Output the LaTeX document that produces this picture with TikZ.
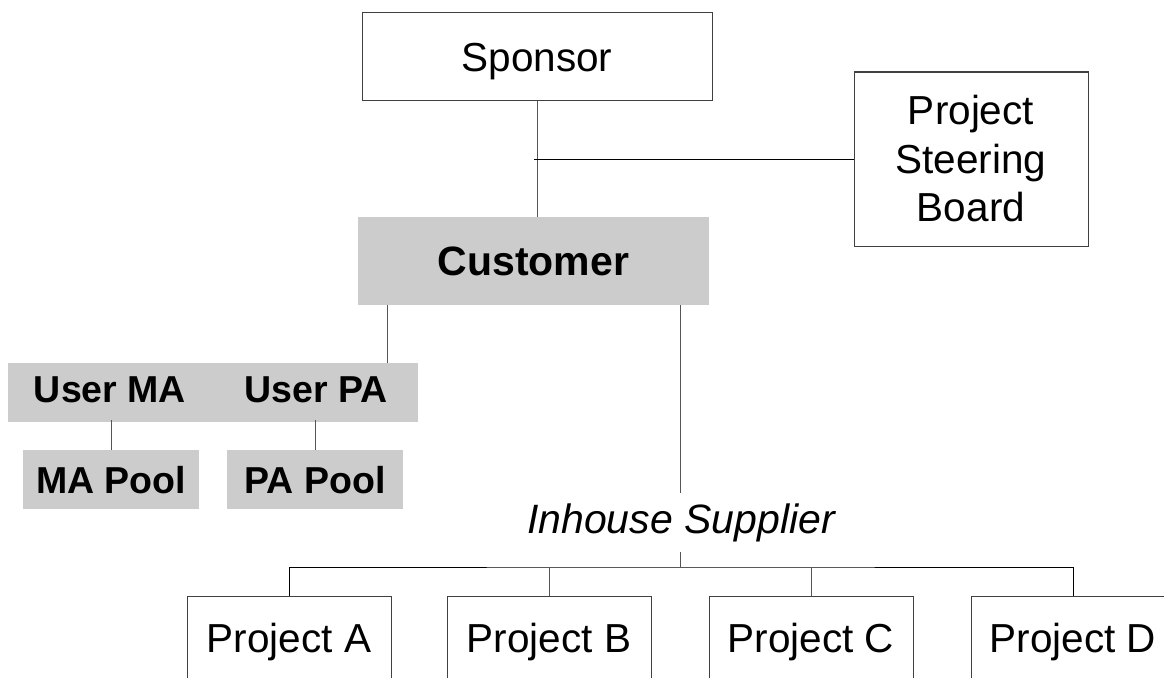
\documentclass[tikz,border=0pt]{standalone}
\usepackage{fontspec}
\setmainfont{Liberation Sans}
\definecolor{boxgray}{HTML}{CCCCCC}
\definecolor{border}{HTML}{404040}
\definecolor{linecol}{HTML}{555555}
\begin{document}
\begin{tikzpicture}[x=1pt,y=-1pt,
  lbl/.style={font=\fontsize{40.5}{48.5}\selectfont, text height=29pt, text depth=0pt},
  wbox/.style={draw=border, line width=1pt, fill=white, inner sep=0pt},
  gbox/.style={fill=boxgray, draw=none, inner sep=0pt},
  bold/.style={font=\fontsize{41}{48}\selectfont\bfseries, text height=29pt, text depth=0pt},
  ubold/.style={font=\fontsize{37.5}{44}\selectfont\bfseries, text height=27pt, text depth=0pt},
  conn/.style={draw=linecol, line width=1pt},
  hconn/.style={draw=black, line width=1pt}]
\useasboundingbox (0,0) rectangle (1164,677);
\clip (0,0) rectangle (1164,677);
\fill[white] (0,0) rectangle (1164,677);

% nodes
\node[wbox, lbl, minimum width=350pt, minimum height=87pt] (sponsor) at (537,56.5) {Sponsor};
\node[wbox, font=\fontsize{40.5}{48.5}\selectfont, align=center, minimum width=234pt, minimum height=174pt] (psb) at (971,159) {Project\\Steering\\Board};
\node[gbox, bold, minimum width=351pt, minimum height=88pt] (cust) at (533.5,261) {Customer};
\node[gbox, minimum width=410pt, minimum height=59pt] (ubar) at (213,392.5) {};
\node[ubold, inner sep=0pt] (uma) at (110,389) {User MA};
\node[ubold, inner sep=0pt] (upa) at (316,389) {User PA};
\node[gbox, ubold, minimum width=176pt, minimum height=59pt] (mapool) at (111,479.5) {MA Pool};
\node[gbox, ubold, minimum width=176pt, minimum height=59pt] (papool) at (315,479.5) {PA Pool};
\node[font=\fontsize{41}{48}\selectfont\itshape, text height=29pt, text depth=8pt, inner xsep=0pt, inner ysep=11pt, anchor=base] (sup) at (681,533) {Inhouse Supplier};
\coordinate (hub) at (680,567);
\node[wbox, lbl, minimum width=204pt, minimum height=84pt] (pA) at (289,638) {Project A};
\node[wbox, lbl, minimum width=204pt, minimum height=84pt] (pB) at (549,638) {Project B};
\node[wbox, lbl, minimum width=204pt, minimum height=84pt] (pC) at (811,638) {Project C};
\node[wbox, lbl, minimum width=204pt, minimum height=84pt] (pD) at (1073,638) {Project D};

% connectors
\draw[conn] (sponsor.south) -- (sponsor.south |- cust.north);
\draw[hconn] ([xshift=-3pt]sponsor.south |- psb.west) -- (psb.west);
\draw[conn] ([xshift=30pt]cust.south west) -- ([xshift=30pt]cust.south west |- ubar.north);
\draw[conn] (uma.south |- ubar.south) ++(1pt,2pt) coordinate (umab) -- (umab |- mapool.north);
\draw[conn] (upa.south |- ubar.south) ++(-1pt,2pt) coordinate (upab) -- (upab |- papool.north);
\draw[conn] ([xshift=-29pt]cust.south east) -- ([xshift=-29pt]cust.south east |- sup.north);
\draw[conn] (sup.south -| hub) -- (hub);
\draw[hconn] (pA.north) |- (hub) -| (pD.north);
\draw[conn] (pB.north) -- (pB.north |- hub);
\draw[conn] (pC.north) -- (pC.north |- hub);
\end{tikzpicture}
\end{document}
